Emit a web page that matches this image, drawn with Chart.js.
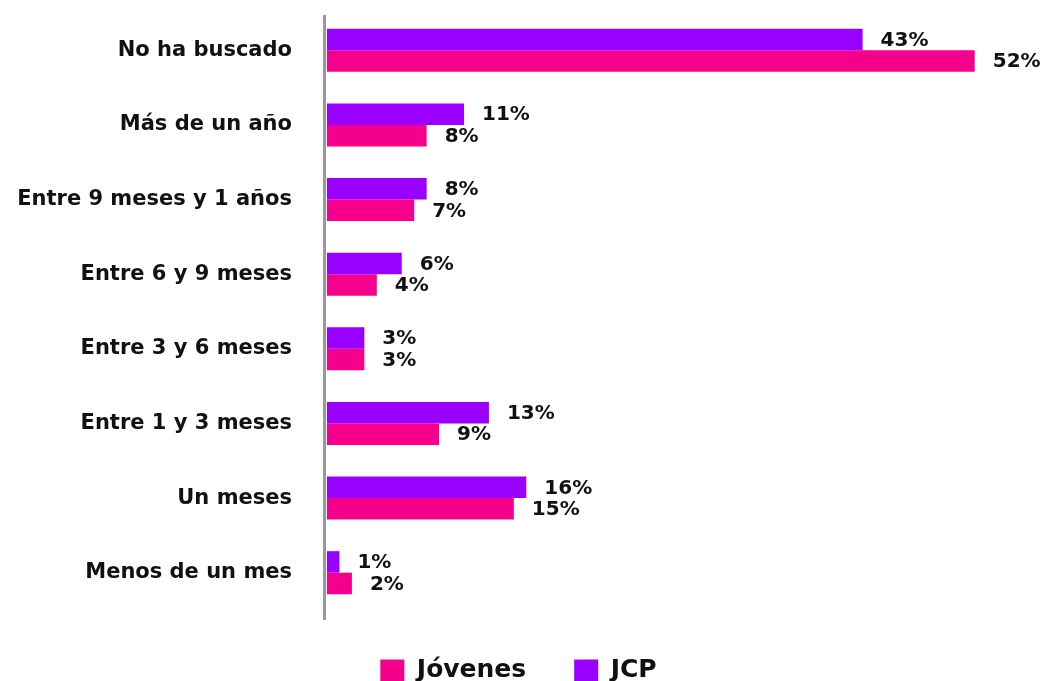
<!DOCTYPE html>
<html>
<head>
<meta charset="utf-8">
<script src="https://cdn.jsdelivr.net/npm/chart.js@4/dist/chart.umd.min.js"></script>
<style>
  html, body { margin: 0; padding: 0; background: #fff; }
  #wrap { width: 1045px; height: 681px; position: relative; }
</style>
</head>
<body>
<div id="wrap"><canvas id="c"></canvas></div>
<script>
// datos
const categorias = ['No ha buscado', 'Más de un año', 'Entre 9 meses y 1 años', 'Entre 6 y 9 meses',
                    'Entre 3 y 6 meses', 'Entre 1 y 3 meses', 'Un meses', 'Menos de un mes'];
const jcp     = [43, 11, 8, 6, 3, 13, 16, 1];
const jovenes = [52, 8, 7, 4, 3, 9, 15, 2];

const FONT = "'DejaVu Sans', sans-serif";

// etiquetas de valor al final de cada barra + linea del eje
const etiquetas = {
  id: 'etiquetas',
  afterDatasetsDraw(chart) {
    const ctx = chart.ctx;
    ctx.save();
    ctx.font = `bold 20px ${FONT}`;
    ctx.fillStyle = '#111';
    ctx.textAlign = 'left';
    ctx.textBaseline = 'middle';
    chart.data.datasets.forEach((ds, i) => {
      chart.getDatasetMeta(i).data.forEach((el, j) => {
        ctx.fillText(ds.data[j] + '%', el.x + 18, el.y + 1);
      });
    });
    // eje vertical gris
    const x0 = chart.scales.x.getPixelForValue(0);
    ctx.fillStyle = '#999';
    ctx.fillRect(x0 - 4, 15, 3, 605);
    ctx.restore();
  }
};

new Chart(document.getElementById('c'), {
  type: 'bar',
  data: {
    labels: categorias,
    datasets: [
      { label: 'JCP', data: jcp, backgroundColor: '#9900FF' },
      { label: 'Jóvenes', data: jovenes, backgroundColor: '#F5008C' }
    ]
  },
  options: {
    indexAxis: 'y',
    responsive: true,
    maintainAspectRatio: false,
    animation: false,
    layout: { padding: { top: 13, right: 8, left: 0, bottom: -12 } },
    datasets: { bar: { barPercentage: 1, categoryPercentage: 0.577 } },
    scales: {
      x: { display: false, min: 0, max: 57 },
      y: {
        afterFit: (s) => { s.width = 327; s.paddingTop = 0; s.paddingBottom = 0; },
        grid: { display: false, drawTicks: false },
        border: { display: false },
        ticks: { color: '#111', padding: 35, font: { family: FONT, size: 21, weight: 'bold' } }
      }
    },
    plugins: {
      legend: {
        position: 'bottom',
        reverse: true,
        labels: {
          color: '#111', boxWidth: 24, boxHeight: 22, padding: 48,
          font: { family: FONT, size: 25, weight: 'bold' }
        }
      },
      tooltip: { enabled: false }
    }
  },
  plugins: [etiquetas]
});
</script>
</body>
</html>
